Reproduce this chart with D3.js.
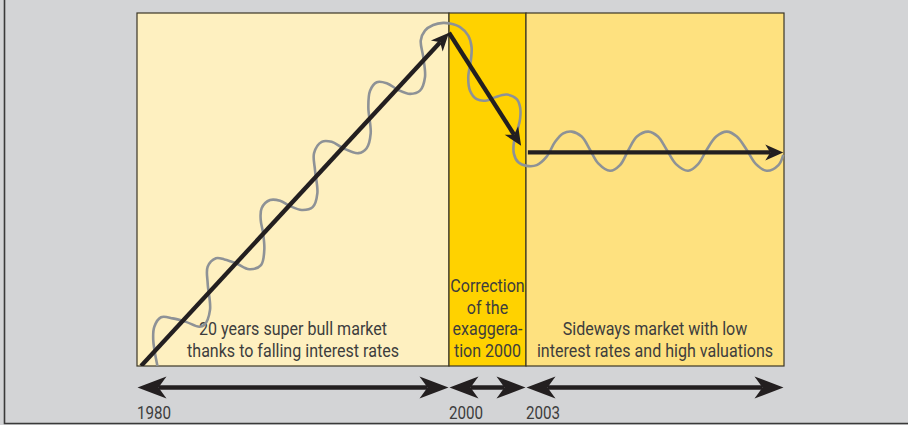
<!DOCTYPE html>
<html><head><meta charset="utf-8">
<script src="https://cdn.jsdelivr.net/npm/d3@7"></script>
<style>
html,body{margin:0;padding:0;background:#d3d4d6;}
svg{display:block;}
text{font-family:Roboto,"Liberation Sans",sans-serif;}
</style></head><body>
<svg id="c" width="908" height="425"></svg>
<script>
// ---------- data ----------
const phaseBounds = [1980, 2000, 2003, 2010];
const phaseLabels = [
  ["20 years super bull market", "thanks to falling interest rates"],
  ["Correction", "of the", "exaggera-", "tion 2000"],
  ["Sideways market with low", "interest rates and high valuations"]
];
const tickYears = [1980, 2000, 2003];
const tickLabels = ["1980", "2000", "2003"];

// stylised trend (index 0-100)
const trendUp   = [[1980.26, 0], [2000.0, 94.4]];
const trendDown = [[2000.0, 94.4], [2002.81, 62.4]];
const trendFlat = [[2003.05, 60.5], [2009.98, 60.5]];

const waveYears = [
  1981.31, 1981.04, 1981.11, 1981.54, 1982.29, 1983.14, 1983.99, 1984.31, 1984.68, 1984.53,
  1984.53, 1985.06, 1985.60, 1986.35, 1987.20, 1987.95, 1988.16, 1988.08, 1987.93, 1987.99,
  1988.53, 1989.17, 1989.81, 1990.56, 1991.26, 1991.56, 1991.41, 1991.35, 1991.84, 1992.48,
  1993.22, 1994.19, 1994.72, 1994.98, 1994.83, 1994.94, 1995.37, 1996.01, 1996.75, 1997.50,
  1998.14, 1998.46, 1998.35, 1998.19, 1998.46, 1998.99, 1999.63, 2000.04, 2000.43, 2000.75,
  2000.88, 2000.85, 2000.75, 2000.82, 2001.08, 2001.47, 2001.79, 2002.25, 2002.64, 2002.77,
  2002.77, 2002.66, 2002.53, 2002.53, 2002.70, 2003.02, 2003.29, 2003.56, 2003.79, 2004.01,
  2004.24, 2004.51, 2004.74, 2004.96, 2005.28, 2005.55, 2005.78, 2006.01, 2006.32, 2006.58,
  2006.82, 2007.07, 2007.40, 2007.67, 2007.90, 2008.16, 2008.45, 2008.72, 2008.99, 2009.24,
  2009.53, 2009.85, 2009.98
];
const waveValues = [
  0.0, 7.4, 11.1, 13.8, 13.5, 12.5, 11.1, 11.6, 15.9, 23.4,
  28.1, 30.5, 30.2, 29.1, 27.4, 28.6, 32.9, 37.7, 41.4, 44.7,
  47.0, 46.8, 45.3, 44.2, 45.0, 48.9, 55.5, 60.3, 63.5, 63.5,
  61.7, 60.3, 61.7, 65.9, 73.3, 78.0, 80.4, 80.1, 78.2, 77.1,
  78.0, 81.8, 87.5, 92.2, 95.0, 96.6, 97.2, 97.0, 96.0, 93.6,
  90.3, 86.5, 81.8, 78.0, 75.6, 75.2, 76.1, 76.9, 75.6, 73.3,
  70.0, 66.7, 63.4, 60.1, 57.7, 56.7, 56.9, 59.3, 63.5, 65.9,
  66.4, 65.0, 61.2, 57.4, 55.3, 56.9, 61.2, 65.0, 66.4, 65.0,
  61.2, 57.2, 55.3, 57.2, 61.2, 65.0, 66.4, 65.0, 61.2, 57.2,
  55.3, 56.9, 59.8
];

// ---------- styles ----------
const phaseColors = ["#fef0c0", "#ffd200", "#fee17f"];
const textColor = "#3d3d3d";
const arrowColor = "#231f20";
const waveColor = "#8e9296";

// ---------- layout ----------
const svg = d3.select("#c");
const x = d3.scaleLinear().domain(phaseBounds).range([137, 449, 526, 784]);
const y = d3.scaleLinear().domain([0, 100]).range([366, 13]);
const timelineY = 387.5;
const fontSize = 18.5, tickFontSize = 17.5;

// condensed look: measure a reference line and squeeze horizontally
const probe = svg.append("text").attr("font-size", fontSize).text(phaseLabels[0][1]);
const sx = 212 / probe.node().getComputedTextLength();
probe.remove();

// frame
svg.append("path").attr("d", "M4.5,0V423.5H908").attr("fill", "none")
  .attr("stroke", "#3a3a3a").attr("stroke-width", 1.6);

// phases
const phases = phaseLabels.map((lab, i) => ({from: phaseBounds[i], to: phaseBounds[i + 1], lab, i}));
svg.selectAll("rect.phase").data(phases).enter().append("rect")
  .attr("class", "phase")
  .attr("x", d => x(d.from)).attr("y", y(100))
  .attr("width", d => x(d.to) - x(d.from)).attr("height", y(0) - y(100))
  .attr("fill", d => phaseColors[d.i])
  .attr("stroke", "#3b3626").attr("stroke-width", 1.2);

// clip to plot
svg.append("clipPath").attr("id", "plot").append("rect")
  .attr("x", x(1980)).attr("y", 0).attr("width", x(2010) - x(1980) + 2).attr("height", y(0));

// phase labels
const lineH = 21.6;
phases.forEach(p => {
  const cx = (x(p.from) + x(p.to)) / 2;
  const n = p.lab.length;
  const g = svg.append("g").attr("transform", `translate(${cx},0) scale(${sx},1)`);
  const t = g.append("text").attr("text-anchor", "middle")
    .attr("fill", textColor).attr("font-size", fontSize);
  p.lab.forEach((s, k) => {
    t.append("tspan").attr("x", 0).attr("y", y(0) - 9 - (n - 1 - k) * lineH).text(s);
  });
});

// wave
const waveData = waveYears.map((yr, i) => [yr, waveValues[i]]);
svg.append("path").datum(waveData)
  .attr("clip-path", "url(#plot)")
  .attr("d", d3.line().x(d => x(d[0])).y(d => y(d[1])).curve(d3.curveCatmullRom.alpha(0.5)))
  .attr("fill", "none").attr("stroke", waveColor).attr("stroke-width", 2.6);

// arrows helper
function arrow(g, p0, p1, opt) {
  const dx = p1[0] - p0[0], dy = p1[1] - p0[1];
  const len = Math.hypot(dx, dy), ux = dx / len, uy = dy / len, nx = -uy, ny = ux;
  const head = (tip, sx, sy) => {
    const L = opt.L, W = opt.W, N = opt.N;
    const bx = tip[0] - sx * L, by = tip[1] - sy * L;
    const pts = [
      tip,
      [bx + nx * W, by + ny * W],
      [tip[0] - sx * (L - N), tip[1] - sy * (L - N)],
      [bx - nx * W, by - ny * W]
    ];
    g.append("path").attr("d", "M" + pts.map(q => q.join(",")).join("L") + "Z")
      .attr("fill", arrowColor);
  };
  const a = opt.start ? [p0[0] + ux * (opt.L - opt.N), p0[1] + uy * (opt.L - opt.N)] : p0;
  const b = [p1[0] - ux * (opt.L - opt.N), p1[1] - uy * (opt.L - opt.N)];
  g.append("line").attr("x1", a[0]).attr("y1", a[1]).attr("x2", b[0]).attr("y2", b[1])
    .attr("stroke", arrowColor).attr("stroke-width", opt.sw);
  head(p1, ux, uy);
  if (opt.start) head(p0, -ux, -uy);
}

const gTrend = svg.append("g").attr("clip-path", "url(#plot)");
[trendUp, trendDown, trendFlat].forEach(seg => {
  arrow(gTrend, [x(seg[0][0]), y(seg[0][1])], [x(seg[1][0]), y(seg[1][1])],
    {L: 18, W: 8, N: 5, sw: 4.3, start: false});
});

// timeline
const gTime = svg.append("g");
phases.forEach(p => {
  arrow(gTime, [x(p.from) + 0.5, timelineY], [x(p.to) - 0.5, timelineY],
    {L: 29, W: 11, N: 8, sw: 4.5, start: true});
});

// tick labels
tickYears.forEach((d, i) => {
  svg.append("g").attr("transform", `translate(${x(d)},419) scale(${sx},1)`)
    .append("text").attr("x", 0).attr("y", 0)
    .attr("fill", textColor).attr("font-size", tickFontSize)
    .text(tickLabels[i]);
});
</script>
</body></html>
